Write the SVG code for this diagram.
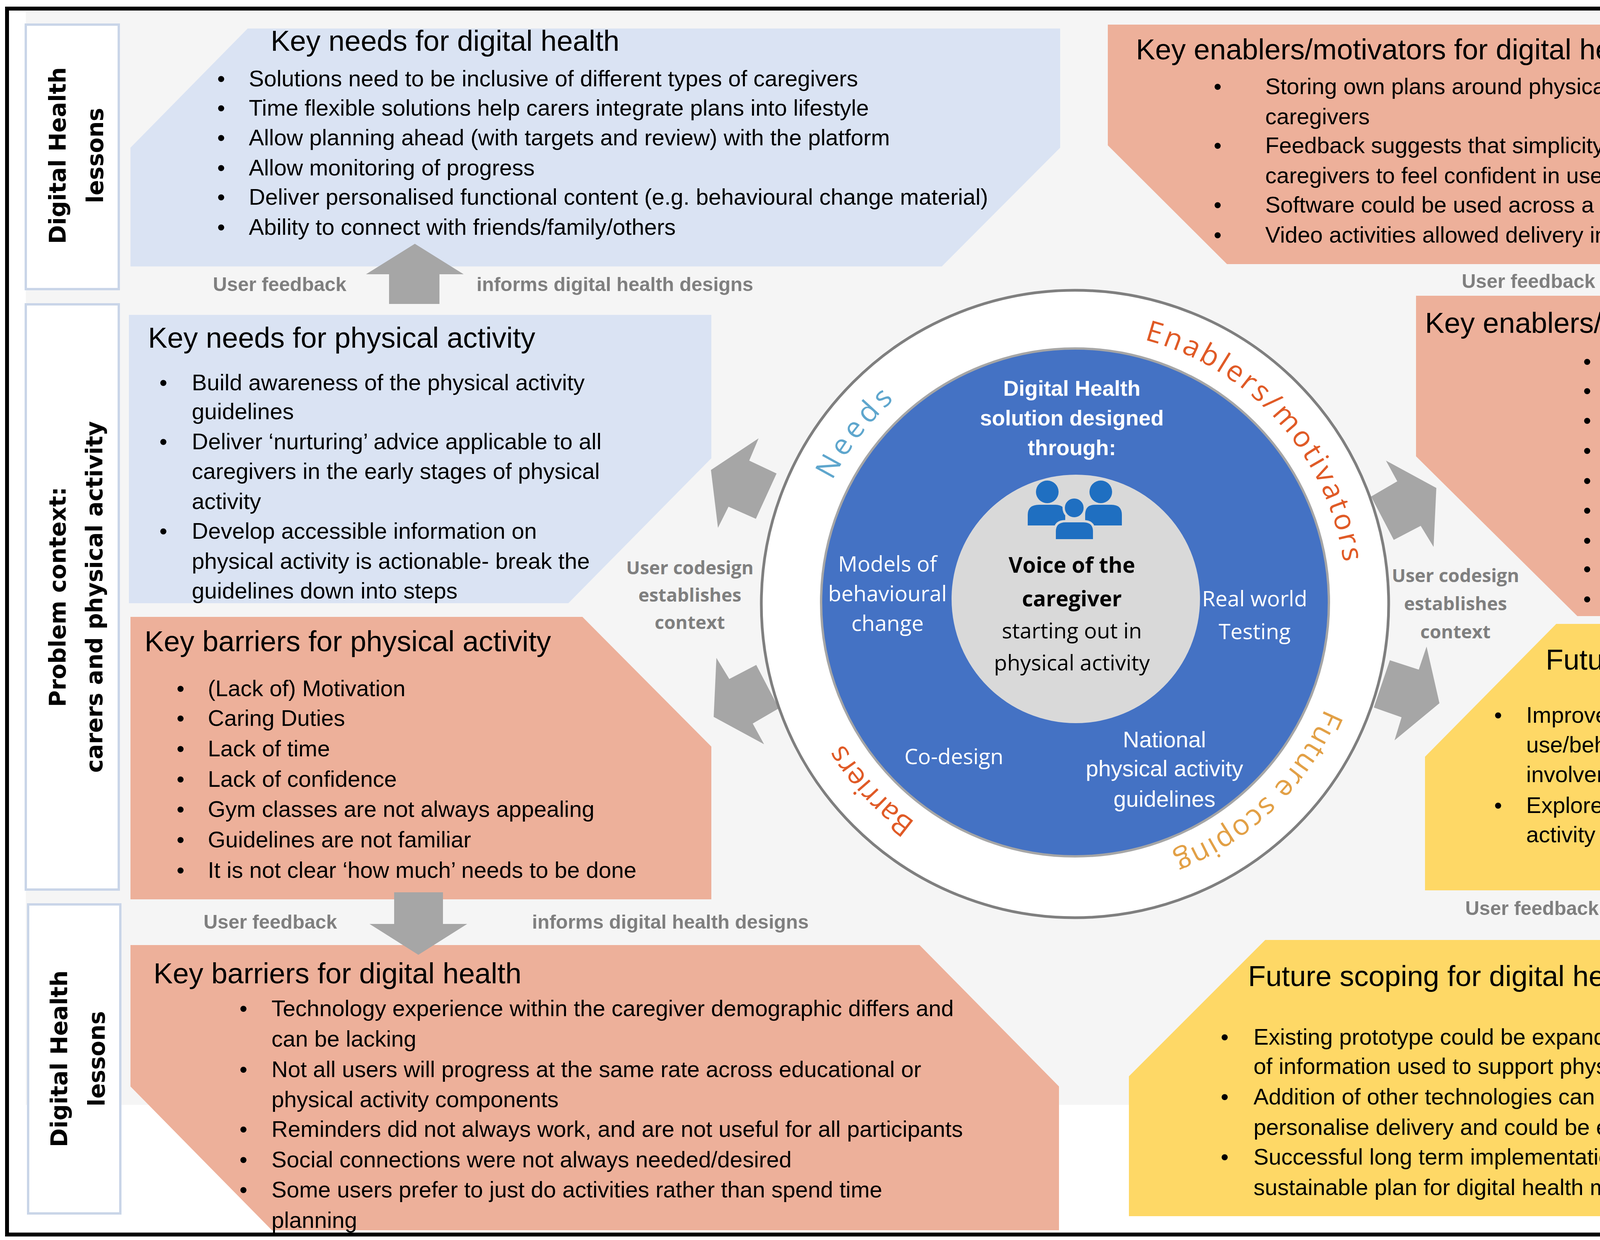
<svg xmlns="http://www.w3.org/2000/svg" width="5586" height="3174" viewBox="0 0 5586 3174">
<style>
.t{font-family:"Liberation Sans Narrow","Liberation Sans",Arial,sans-serif;fill:#000}
.ti{font-size:74px}
.b{font-size:58px}
.lab{font-family:"DejaVu Sans",sans-serif;font-weight:bold;font-size:58px;fill:#000;text-anchor:middle}
.fb{font-family:"Liberation Sans Narrow","Liberation Sans",sans-serif;font-weight:bold;font-size:50px;fill:#7f7f7f}
.cd{font-family:"Open Sans",sans-serif;font-weight:bold;font-size:47px;fill:#7f7f7f;text-anchor:middle}
.c{font-family:"Open Sans",sans-serif;font-size:55px;text-anchor:middle}
.cn{font-family:"Liberation Sans Narrow","Liberation Sans",sans-serif;font-size:58px;text-anchor:middle}
.arc{font-family:"Open Sans",sans-serif;font-size:74px}
.box{fill:#fff;stroke:#c9d5e8;stroke-width:6}
.arr{fill:#a6a6a6}
</style>
<defs>
<path id="ring" d="M3447,1542 A695,695 0 1 1 2057,1542 A695,695 0 1 1 3447,1542"/>
</defs>
<rect x="18" y="22" width="5554" height="3138" fill="#fff" stroke="#000" stroke-width="10"/>
<rect x="66" y="30" width="5245" height="2798" fill="#f5f5f5"/>

<g id="side-labels">
<rect class="box" x="66" y="63" width="238" height="677"/>
<text class="lab" transform="translate(168,398) rotate(-90)">Digital Health</text>
<text class="lab" transform="translate(264,398) rotate(-90)">lessons</text>
<rect class="box" x="66" y="779" width="238" height="1498"/>
<text class="lab" transform="translate(168,1528) rotate(-90)">Problem context:</text>
<text class="lab" transform="translate(262,1528) rotate(-90)">carers and physical activity</text>
<rect class="box" x="72" y="2315" width="236" height="791"/>
<text class="lab" transform="translate(172,2710) rotate(-90)">Digital Health</text>
<text class="lab" transform="translate(268,2710) rotate(-90)">lessons</text>
<rect class="box" x="5325" y="63" width="238" height="598"/>
<text class="lab" transform="translate(5464,362) rotate(90)">Digital Health</text>
<text class="lab" transform="translate(5366,362) rotate(90)">lessons</text>
<rect class="box" x="5325" y="776" width="236" height="1501"/>
<text class="lab" transform="translate(5464,1527) rotate(90)">Problem context:</text>
<text class="lab" transform="translate(5368,1527) rotate(90)">carers and physical activity</text>
<rect class="box" x="5320" y="2330" width="238" height="776"/>
<text class="lab" transform="translate(5460,2718) rotate(90)">Digital Health</text>
<text class="lab" transform="translate(5364,2718) rotate(90)">lessons</text>
</g>

<g id="needs-dh">
<polygon points="634,73 2714,73 2714,378 2411,682 334,682 334,378" fill="#dae3f3"/>
<text class="t ti" x="693" y="130">Key needs for digital health</text>
<g class="t b">
<text x="556" y="221">•</text><text x="637" y="221">Solutions need to be inclusive of different types of caregivers</text>
<text x="556" y="296">•</text><text x="637" y="296">Time flexible solutions help carers integrate plans into lifestyle</text>
<text x="556" y="372">•</text><text x="637" y="372">Allow planning ahead (with targets and review) with the platform</text>
<text x="556" y="449">•</text><text x="637" y="449">Allow monitoring of progress</text>
<text x="556" y="524">•</text><text x="637" y="524">Deliver personalised functional content (e.g. behavioural change material)</text>
<text x="556" y="601">•</text><text x="637" y="601">Ability to connect with friends/family/others</text>
</g>
</g>

<g id="needs-pa">
<polygon points="330,806 1821,806 1821,1173 1455,1544 330,1544" fill="#dae3f3"/>
<text class="t ti" x="379" y="890">Key needs for physical activity</text>
<g class="t b">
<text x="408" y="999">•</text><text x="491" y="999">Build awareness of the physical activity</text>
<text x="491" y="1073">guidelines</text>
<text x="408" y="1150">•</text><text x="491" y="1150">Deliver ‘nurturing’ advice applicable to all</text>
<text x="491" y="1226">caregivers in the early stages of physical</text>
<text x="491" y="1303">activity</text>
<text x="408" y="1379">•</text><text x="491" y="1379">Develop accessible information on</text>
<text x="491" y="1456">physical activity is actionable- break the</text>
<text x="491" y="1532">guidelines down into steps</text>
</g>
</g>

<g id="barriers-pa">
<polygon points="334,1579 1491,1579 1821,1911 1821,2302 334,2302" fill="#edb09a"/>
<text class="t ti" x="370" y="1667">Key barriers for physical activity</text>
<g class="t b">
<text x="452" y="1782">•</text><text x="532" y="1782">(Lack of) Motivation</text>
<text x="452" y="1858">•</text><text x="532" y="1858">Caring Duties</text>
<text x="452" y="1936">•</text><text x="532" y="1936">Lack of time</text>
<text x="452" y="2014">•</text><text x="532" y="2014">Lack of confidence</text>
<text x="452" y="2091">•</text><text x="532" y="2091">Gym classes are not always appealing</text>
<text x="452" y="2169">•</text><text x="532" y="2169">Guidelines are not familiar</text>
<text x="452" y="2247">•</text><text x="532" y="2247">It is not clear ‘how much’ needs to be done</text>
</g>
</g>

<g id="barriers-dh">
<polygon points="334,2419 2354,2419 2711,2781 2711,3149 696,3149 334,2781" fill="#edb09a"/>
<text class="t ti" x="393" y="2517">Key barriers for digital health</text>
<g class="t b">
<text x="613" y="2601">•</text><text x="695" y="2601">Technology experience within the caregiver demographic differs and</text>
<text x="695" y="2679">can be lacking</text>
<text x="613" y="2757">•</text><text x="695" y="2757">Not all users will progress at the same rate across educational or</text>
<text x="695" y="2834">physical activity components</text>
<text x="613" y="2910">•</text><text x="695" y="2910">Reminders did not always work, and are not useful for all participants</text>
<text x="613" y="2988">•</text><text x="695" y="2988">Social connections were not always needed/desired</text>
<text x="613" y="3065">•</text><text x="695" y="3065">Some users prefer to just do activities rather than spend time</text>
<text x="695" y="3143">planning</text>
</g>
</g>

<g id="enablers-dh">
<polygon points="2836,63 4979,63 5284,367 5284,676 3141,676 2836,372" fill="#edb09a"/>
<text class="t ti" x="2908" y="152">Key enablers/motivators for digital health</text>
<g class="t b">
<text x="3107" y="241">•</text><text x="3239" y="241">Storing own plans around physical activity was beneficial for many</text>
<text x="3239" y="318">caregivers</text>
<text x="3107" y="392">•</text><text x="3239" y="392">Feedback suggests that simplicity of design is useful to encourage</text>
<text x="3239" y="469">caregivers to feel confident in use</text>
<text x="3107" y="544">•</text><text x="3239" y="544">Software could be used across a wide range of android phones</text>
<text x="3107" y="621">•</text><text x="3239" y="621">Video activities allowed delivery in a clear way</text>
</g>
</g>

<g id="enablers-pa">
<polygon points="3625,757 5275,757 5275,1577 4038,1577 3625,1168" fill="#edb09a"/>
<text class="t ti" x="3648" y="852">Key enablers/motivators for physical activity</text>
<g class="t b">
<text x="4053" y="945">•</text><text x="4187" y="945">Improving physical health</text>
<text x="4053" y="1020">•</text><text x="4187" y="1020">Keeping fit</text>
<text x="4053" y="1096">•</text><text x="4187" y="1096">Losing Weight</text>
<text x="4053" y="1173">•</text><text x="4187" y="1173">Improving Mental Health</text>
<text x="4053" y="1250">•</text><text x="4187" y="1250">Reducing Stress</text>
<text x="4053" y="1326">•</text><text x="4187" y="1326">Reducing sedentary time</text>
<text x="4053" y="1403">•</text><text x="4187" y="1403">Help undertake caring role</text>
<text x="4053" y="1476">•</text><text x="4187" y="1476">Improve mobility</text>
<text x="4053" y="1553">•</text><text x="4187" y="1553">Prevent illness</text>
</g>
</g>

<g id="future-pa">
<polygon points="3984,1597 5284,1597 5284,2279 3648,2279 3648,1937" fill="#fed866"/>
<text class="t ti" x="3957" y="1714">Future scoping for physical activity</text>
<g class="t b">
<text x="3825" y="1850">•</text><text x="3907" y="1850">Improve understanding of longer term</text>
<text x="3907" y="1926">use/behavioural change including stakeholder</text>
<text x="3907" y="2002">involvement for long term use in caregivers</text>
<text x="3825" y="2081">•</text><text x="3907" y="2081">Explore how to better recognise existing physical</text>
<text x="3907" y="2156">activity efforts in the caregiver population</text>
</g>
</g>

<g id="future-dh">
<polygon points="3239,2406 5293,2406 5293,2766 4943,3113 2890,3113 2890,2755" fill="#fed866"/>
<text class="t ti" x="3195" y="2524">Future scoping for digital health</text>
<g class="t b">
<text x="3125" y="2674">•</text><text x="3209" y="2674">Existing prototype could be expanded considerably including libraries</text>
<text x="3209" y="2749">of information used to support physical activity</text>
<text x="3125" y="2827">•</text><text x="3209" y="2827">Addition of other technologies can offer much needed routes to</text>
<text x="3209" y="2905">personalise delivery and could be expanded across holistic carer needs</text>
<text x="3125" y="2981">•</text><text x="3209" y="2981">Successful long term implementation requires an affordable and</text>
<text x="3209" y="3059">sustainable plan for digital health maintenance and delivery</text>
</g>
</g>

<g id="connectors">
<polygon class="arr" points="1062,624 1187,702 1125,702 1125,778 996,778 996,702 937,702"/>
<polygon class="arr" points="4454,609 4581,682 4518,682 4518,763 4393,763 4393,682 4330,682"/>
<polygon class="arr" points="1071,2444 1196,2365 1134,2365 1134,2284 1009,2284 1009,2365 946,2365"/>
<polygon class="arr" points="4441,2401 4567,2320 4504,2320 4504,2240 4378,2240 4378,2320 4316,2320"/>
<polygon class="arr" points="1942,1122 1918,1179 1988,1212 1935,1328 1865,1297 1838,1351 1820,1203"/>
<polygon class="arr" points="3548,1179 3577,1232 3510,1271 3568,1382 3637,1346 3670,1400 3677,1249"/>
<polygon class="arr" points="3652,1655 3632,1714 3558,1690 3517,1811 3588,1836 3570,1895 3685,1800"/>
<polygon class="arr" points="1956,1905 1927,1852 1994,1813 1936,1702 1867,1738 1834,1684 1827,1835"/>
<text class="fb" x="545" y="745">User feedback</text>
<text class="fb" x="1220" y="745">informs digital health designs</text>
<text class="fb" x="3742" y="737">User feedback</text>
<text class="fb" x="4590" y="737">Informs digital health designs</text>
<text class="fb" x="521" y="2377">User feedback</text>
<text class="fb" x="1362" y="2377">informs digital health designs</text>
<text class="fb" x="3751" y="2342">User feedback</text>
<text class="fb" x="4603" y="2342">Informs digital health designs</text>
<text class="cd" x="1766" y="1470">User codesign</text>
<text class="cd" x="1766" y="1540">establishes</text>
<text class="cd" x="1766" y="1610">context</text>
<text class="cd" x="3726" y="1490">User codesign</text>
<text class="cd" x="3726" y="1562">establishes</text>
<text class="cd" x="3726" y="1634">context</text>
</g>

<g id="centre">
<circle cx="2752" cy="1546" r="803" fill="#fff" stroke="#7f7f7f" stroke-width="7"/>
<circle cx="2752" cy="1542" r="650" fill="#4472c4" stroke="#a6a6a6" stroke-width="6"/>
<circle cx="2754" cy="1533" r="318" fill="#d9d9d9"/>
<g fill="#1f6fc1">
<circle cx="2681" cy="1259" r="29"/>
<circle cx="2818" cy="1259" r="29"/>
<path d="M2631,1345 L2631,1318 Q2631,1292 2660,1292 L2702,1292 Q2727,1292 2727,1318 L2727,1345 Z"/>
<path d="M2778,1345 L2778,1318 Q2778,1292 2803,1292 L2845,1292 Q2872,1292 2872,1318 L2872,1345 Z"/>
<circle cx="2750" cy="1300" r="27" stroke="#d9d9d9" stroke-width="6"/>
<path d="M2700,1383 L2700,1360 Q2700,1334 2728,1334 L2773,1334 Q2801,1334 2801,1360 L2801,1383 Z" stroke="#d9d9d9" stroke-width="6"/>
</g>
<g class="cn" fill="#fff" font-weight="bold">
<text x="2744" y="1013" font-size="55">Digital Health</text>
<text x="2744" y="1089" font-size="55">solution designed</text>
<text x="2744" y="1165" font-size="55">through:</text>
</g>
<text class="c" x="2744" y="1466" font-weight="bold" fill="#000" font-size="58">Voice of the</text>
<text class="c" x="2744" y="1552" font-weight="bold" fill="#000" font-size="58">caregiver</text>
<text class="c" x="2744" y="1634" fill="#000" font-size="58">starting out in</text>
<text class="c" x="2744" y="1716" fill="#000" font-size="58">physical activity</text>
<g class="c" fill="#fff">
<text x="2272" y="1463">Models of</text>
<text x="2272" y="1539">behavioural</text>
<text x="2272" y="1615">change</text>
<text x="3212" y="1552">Real world</text>
<text x="3212" y="1636">Testing</text>
<text x="2442" y="1956">Co-design</text>
</g>
<g class="cn" fill="#fff">
<text x="2981" y="1913">National</text>
<text x="2981" y="1987">physical activity</text>
<text x="2981" y="2065">guidelines</text>
</g>
<text class="arc" fill="#5ea6cd"><textPath href="#ring" startOffset="57.4%" textLength="262">Needs</textPath></text>
<text class="arc" fill="#e05a26"><textPath href="#ring" startOffset="79.1%" textLength="810">Enablers/motivators</textPath></text>
<text class="arc" fill="#e2a046"><textPath href="#ring" startOffset="6.4%" textLength="555">Future scoping</textPath></text>
<text class="arc" fill="#e05a26"><textPath href="#ring" startOffset="35.0%" textLength="275">Barriers</textPath></text>
</g>
</svg>
